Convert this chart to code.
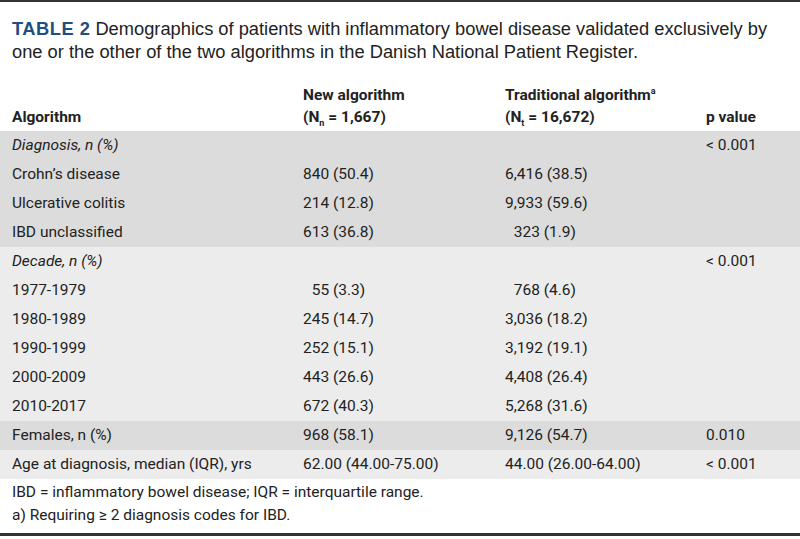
<!DOCTYPE html>
<html>
<head>
<meta charset="utf-8">
<script src="https://cdn.jsdelivr.net/npm/chart.js@4"></script>
<style>
  body { margin: 0; width: 800px; height: 539px; background: #fff; font-family: "Liberation Sans Narrow", Roboto, sans-serif; color: #222; position: relative; overflow: hidden; }
  #topline { position: absolute; left: 0; top: 0; width: 800px; height: 2px; background: #333; }
  #title { position: absolute; left: 12px; top: 17px; width: 765px; font-family: "Liberation Sans", Arial, sans-serif; font-size: 18.3px; line-height: 23px; color: #222; }
  #title b { color: #1f4e82; letter-spacing: 0.5px; }
  table { position: absolute; left: 0; top: 84px; width: 800px; border-collapse: collapse; font-size: 15.5px; }
  th { text-align: left; font-weight: bold; vertical-align: bottom; line-height: 22px; padding: 0 0 3px 0; height: 44px; box-sizing: border-box; }
  th sub, th sup { font-size: 9px; line-height: 0; }
  td { height: 29px; padding: 0; line-height: 29px; white-space: pre; }
  td:first-child, th:first-child { padding-left: 12px; width: 291px; }
  .c2 { width: 202px; } .c3 { width: 201px; }
  tr.head { height: 47px; }
  tr.dark td { background: #dcdcdc; }
  tr.light td { background: #ececec; }
  i { font-style: italic; }
  #notes { position: absolute; left: 12px; top: 481px; font-size: 15.5px; line-height: 23px; }
  #bottomline { position: absolute; left: 0; top: 533px; width: 800px; height: 3px; background: #333; }
</style>
</head>
<body>
<div id="topline"></div>
<div id="title"><b>TABLE 2</b> Demographics of patients with inflammatory bowel disease validated exclusively by one or the other of the two algorithms in the Danish National Patient Register.</div>
<table id="tbl"></table>
<div id="notes">IBD = inflammatory bowel disease; IQR = interquartile range.<br>a) Requiring ≥ 2 diagnosis codes for IBD.</div>
<div id="bottomline"></div>
<script>
const headers = ["Algorithm", "New algorithm<br>(N<sub>n</sub> = 1,667)", "Traditional algorithm<sup>a</sup><br>(N<sub>t</sub> = 16,672)", "p value"];
const labels = ["Diagnosis, n (%)", "Crohn’s disease", "Ulcerative colitis", "IBD unclassified",
  "Decade, n (%)", "1977-1979", "1980-1989", "1990-1999", "2000-2009", "2010-2017",
  "Females, n (%)", "Age at diagnosis, median (IQR), yrs"];
const newAlg = ["", "840 (50.4)", "214 (12.8)", "613 (36.8)", "", "\u200755 (3.3)", "245 (14.7)", "252 (15.1)", "443 (26.6)", "672 (40.3)", "968 (58.1)", "62.00 (44.00-75.00)"];
const tradAlg = ["", "6,416 (38.5)", "9,933 (59.6)", "\u2007323 (1.9)", "", "\u2007768 (4.6)", "3,036 (18.2)", "3,192 (19.1)", "4,408 (26.4)", "5,268 (31.6)", "9,126 (54.7)", "44.00 (26.00-64.00)"];
const pValues = ["< 0.001", "", "", "", "< 0.001", "", "", "", "", "", "0.010", "< 0.001"];
const italicRows = [0, 4];
const shades = ["dark", "dark", "dark", "dark", "light", "light", "light", "light", "light", "light", "dark", "light"];

const tbl = document.getElementById("tbl");
let html = "<tr class='head'>" + headers.map((h, i) => `<th class="c${i + 1}">${h}</th>`).join("") + "</tr>";
labels.forEach((lab, i) => {
  const l = italicRows.includes(i) ? `<i>${lab}</i>` : lab;
  html += `<tr class="${shades[i]}"><td>${l}</td><td class="c2">${newAlg[i]}</td><td class="c3">${tradAlg[i]}</td><td>${pValues[i]}</td></tr>`;
});
tbl.innerHTML = html;
</script>
</body>
</html>
